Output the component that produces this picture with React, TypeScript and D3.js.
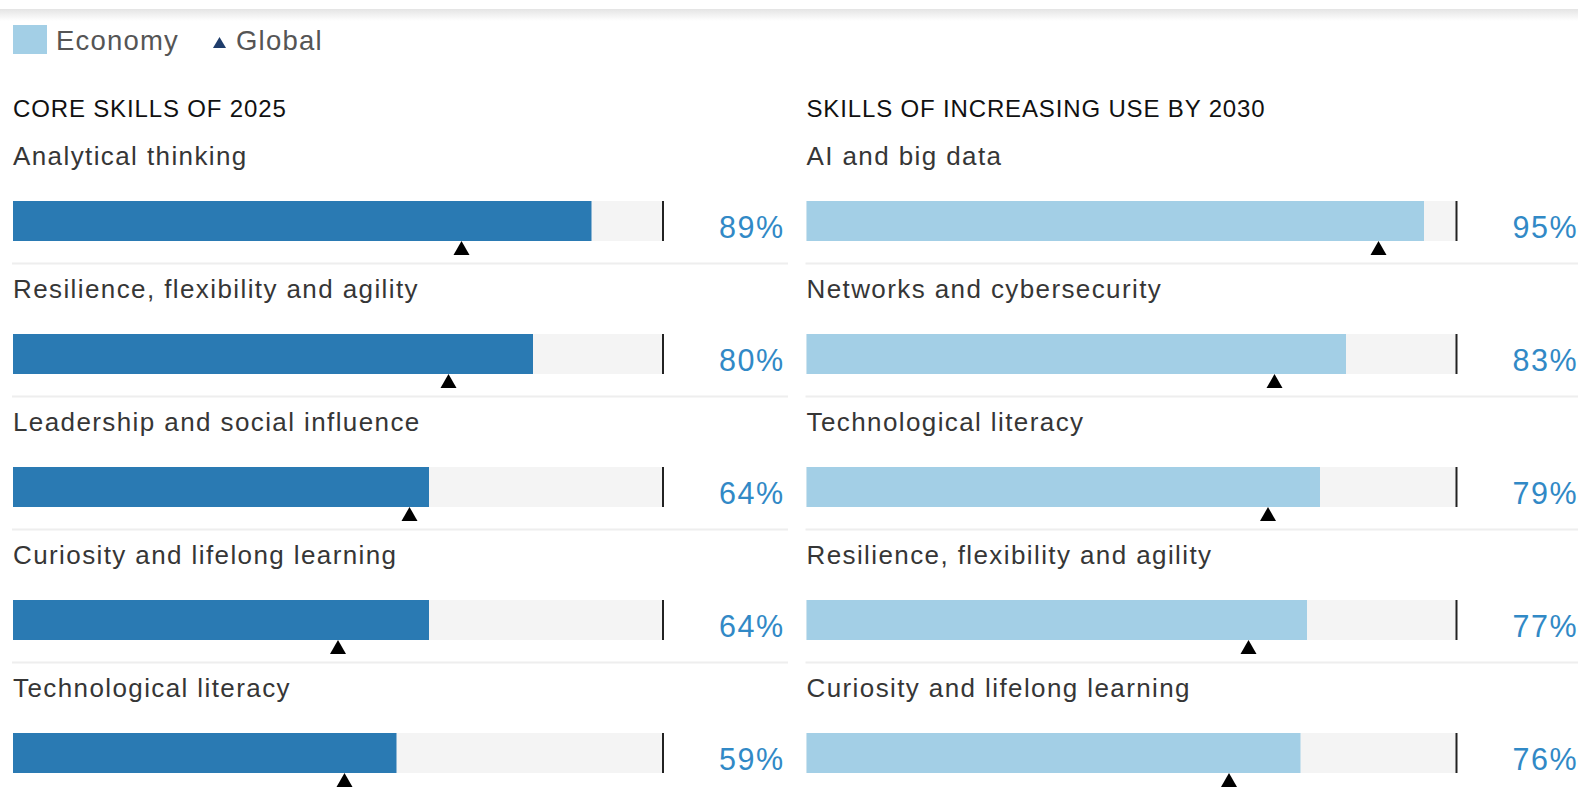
import React, { useEffect, useRef } from 'react';
import * as d3 from 'd3';

// Skills (top 5 in each panel)
const coreSkills = [
  'Analytical thinking',
  'Resilience, flexibility and agility',
  'Leadership and social influence',
  'Curiosity and lifelong learning',
  'Technological literacy'
];
const coreEconomy = [89, 80, 64, 64, 59];
const coreGlobal = [69, 67, 61, 50, 51];

const risingSkills = [
  'AI and big data',
  'Networks and cybersecurity',
  'Technological literacy',
  'Resilience, flexibility and agility',
  'Curiosity and lifelong learning'
];
const risingEconomy = [95, 83, 79, 77, 76];
const risingGlobal = [88, 72, 71, 68, 65];

const panelTitles = ['CORE SKILLS OF 2025', 'SKILLS OF INCREASING USE BY 2030'];
const legendLabels = ['Economy', 'Global'];

const FONT = '"Liberation Sans", Arial, Helvetica, sans-serif';

const App = () => {
  const d3Container = useRef<HTMLDivElement>(null);

  const width = 1578;
  const height = 790;

  useEffect(() => {
    if (d3Container.current) {
      const svg = d3.select(d3Container.current)
        .append('svg')
        .attr('width', width)
        .attr('height', height)
        .style('position', 'absolute')
        .style('left', 0)
        .style('top', 0)
        .style('font-family', FONT);

      svg.append('rect').attr('width', width).attr('height', height).attr('fill', '#fff');

      // header shadow at the very top
      const defs = svg.append('defs');
      const grad = defs.append('linearGradient')
        .attr('id', 'topShade').attr('x1', 0).attr('x2', 0).attr('y1', 0).attr('y2', 1);
      grad.append('stop').attr('offset', '0%').attr('stop-color', '#e4e4e4');
      grad.append('stop').attr('offset', '100%').attr('stop-color', '#ffffff');
      svg.append('rect').attr('x', 0).attr('y', 9).attr('width', width).attr('height', 12)
        .attr('fill', 'url(#topShade)');

      // legend
      const legend = svg.append('g');
      legend.append('rect')
        .attr('x', 13).attr('y', 25).attr('width', 34).attr('height', 29)
        .attr('fill', '#a3cfe6');
      legend.append('text')
        .attr('x', 56).attr('y', 49.5)
        .style('font-size', '27.5px').style('letter-spacing', '1.2px')
        .attr('fill', '#555').text(legendLabels[0]);
      legend.append('path')
        .attr('d', 'M219.5,37L226,48L213,48Z')
        .attr('fill', '#1f3d6b');
      legend.append('text')
        .attr('x', 236).attr('y', 49.5)
        .style('font-size', '27.5px').style('letter-spacing', '1.2px')
        .attr('fill', '#555').text(legendLabels[1]);

      const panels = [
        { x0: 13, title: panelTitles[0], skills: coreSkills, economy: coreEconomy, global: coreGlobal, color: '#2a7ab3', sepEnd: 788 },
        { x0: 806.5, title: panelTitles[1], skills: risingSkills, economy: risingEconomy, global: risingGlobal, color: '#a3cfe6', sepEnd: 1578 }
      ];

      const barH = 40;

      const y = d3.scaleBand<number>()
        .domain(d3.range(5))
        .range([201, 201 + 5 * 133])
        .paddingInner(0);

      panels.forEach(p => {
        const x = d3.scaleLinear().domain([0, 100]).range([p.x0, p.x0 + 650]);
        const g = svg.append('g');

        g.append('text')
          .attr('x', p.x0).attr('y', 116.7)
          .style('font-size', '24px').style('letter-spacing', '0.85px')
          .attr('fill', '#111').text(p.title);

        const rows = g.selectAll('g.row')
          .data(p.skills.map((s, i) => ({ skill: s, eco: p.economy[i], glob: p.global[i], i })))
          .enter().append('g')
          .attr('class', 'row');

        // separators between rows
        rows.filter(d => d.i < 4).append('line')
          .attr('x1', p.x0 - 1).attr('x2', p.sepEnd)
          .attr('y1', d => y(d.i)! + 62.5).attr('y2', d => y(d.i)! + 62.5)
          .attr('stroke', '#eeeeee').attr('stroke-width', 2);

        rows.append('text')
          .attr('x', p.x0).attr('y', d => y(d.i)! - 36)
          .style('font-size', '26px').style('letter-spacing', '1.4px')
          .attr('fill', '#363636').text(d => d.skill);

        // track
        rows.append('rect')
          .attr('x', x(0)).attr('y', d => y(d.i)!)
          .attr('width', x(100) - x(0)).attr('height', barH)
          .attr('fill', '#f4f4f4');

        // economy bar
        rows.append('rect')
          .attr('x', x(0)).attr('y', d => y(d.i)!)
          .attr('width', d => x(d.eco) - x(0)).attr('height', barH)
          .attr('fill', p.color);

        // 100% tick
        rows.append('line')
          .attr('x1', x(100)).attr('x2', x(100))
          .attr('y1', d => y(d.i)!).attr('y2', d => y(d.i)! + barH)
          .attr('stroke', '#222').attr('stroke-width', 2);

        // global marker
        rows.append('path')
          .attr('d', d => {
            const cx = x(d.glob);
            const top = y(d.i)! + barH;
            return `M${cx},${top}L${cx + 8},${top + 14}L${cx - 8},${top + 14}Z`;
          })
          .attr('fill', '#000');

        rows.append('text')
          .attr('x', p.x0 + 706).attr('y', d => y(d.i)! + 37)
          .style('font-size', '30.5px').style('letter-spacing', '1.5px')
          .attr('fill', '#3189c6').text(d => `${d.eco}%`);
      });
    }

    return () => {
      if (d3Container.current) {
        d3Container.current.innerHTML = '';
      }
    };
  }, []);

  return (
    <div ref={d3Container}></div>
  );
};

export default App;
